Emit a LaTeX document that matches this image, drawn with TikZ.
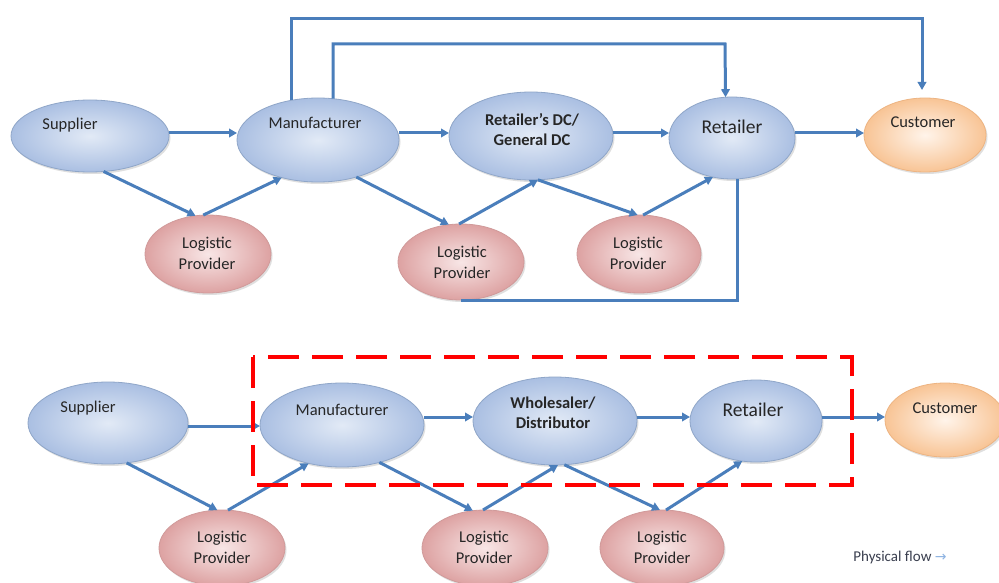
\documentclass[tikz,border=0pt]{standalone}
\usepackage{fontspec}
\setmainfont{Carlito}
\newfontfamily\dejavu{DejaVu Sans}
\usetikzlibrary{shapes.geometric,arrows.meta,shadows}
\definecolor{flowblue}{HTML}{4A7EBB}
\definecolor{flowlight}{HTML}{8DB3E2}
\definecolor{txtgray}{HTML}{262626}
\definecolor{legendtxt}{HTML}{3A3F4F}
\definecolor{blueIn}{HTML}{E2EAF6}
\definecolor{blueOut}{HTML}{AABFE2}
\definecolor{blueLine}{HTML}{8FA6C8}
\definecolor{pinkIn}{HTML}{F8E6E6}
\definecolor{pinkOut}{HTML}{DDA2A2}
\definecolor{pinkLine}{HTML}{D09A9A}
\definecolor{orIn}{HTML}{FFF4EA}
\definecolor{orOut}{HTML}{F8C495}
\definecolor{orLine}{HTML}{EDB482}
\tikzset{
  ellbase/.style={ellipse, inner sep=0pt, outer sep=0pt, line width=0.8pt,
    drop shadow={shadow xshift=1.5pt, shadow yshift=-2pt, opacity=0.25}},
  blueell/.style={ellbase, draw=blueLine, inner color=blueIn, outer color=blueOut},
  pinkell/.style={ellbase, draw=pinkLine, inner color=pinkIn, outer color=pinkOut},
  orell/.style={ellbase, draw=orLine, inner color=orIn, outer color=orOut},
  lbl/.style={text=txtgray, align=center, font=\fontsize{16.5}{21}\selectfont, inner sep=0pt},
  blbl/.style={lbl, font=\fontsize{16.5}{20}\selectfont\bfseries},
  rlbl/.style={lbl, font=\fontsize{19.5}{22}\selectfont},
  arr/.style={draw=flowblue, line width=3pt, -{Triangle[length=8pt,width=8.5pt]}},
  flowline/.style={draw=flowblue, line width=3pt},
  redbox/.style={draw=red, line width=4pt, dash pattern=on 31pt off 13pt}
}
\begin{document}
\begin{tikzpicture}[x=1pt,y=-1pt]
\useasboundingbox (0,0) rectangle (999,583);
\fill[white] (0,0) rectangle (999,583);

% ---------- top diagram ----------
\node[blueell, minimum width=158pt, minimum height=72pt] (sup) at (90,136) {};
\node[blueell, minimum width=162pt, minimum height=84pt] (man) at (318,140) {};
\node[blueell, minimum width=164pt, minimum height=88pt] (rdc) at (531,136) {};
\node[blueell, minimum width=126pt, minimum height=82pt] (ret) at (732,138) {};
\node[orell,   minimum width=122pt, minimum height=74pt] (cus) at (925,135) {};
\node[pinkell, minimum width=126pt, minimum height=78pt] (lp1) at (208,254) {};
\node[pinkell, minimum width=126pt, minimum height=76pt] (lp2) at (461,262) {};
\node[pinkell, minimum width=124pt, minimum height=78pt] (lp3) at (639,254) {};

\node[lbl] (supt) at (70,125) {Supplier};
\node[lbl] (mant) at (315,123) {Manufacturer};
\node[blbl] (rdct) at (532,130) {Retailer’s DC/\\General DC};
\node[rlbl] (rett) at (732,127) {Retailer};
\node[lbl] (cust) at (923,122) {Customer};
\node[lbl] (lp1t) at (207,253) {Logistic\\Provider};
\node[lbl] (lp2t) at (462,262) {Logistic\\Provider};
\node[lbl] (lp3t) at (638,253) {Logistic\\Provider};

\coordinate (ya) at (0,133);
\coordinate (top1) at (922,19);
\coordinate (cusin) at (922,90);
\coordinate (top2) at (725,44);

\draw[arr] (sup.east |- ya) -- (man.west |- ya);
\draw[arr] (man.east |- ya) -- (rdc.west |- ya);
\draw[arr] (rdc.east |- ya) -- (ret.west |- ya);
\draw[arr] (ret.east |- ya) -- (cus.west |- ya);
\draw[arr] (sup.-69.6) -- (lp1.108.4);
\draw[arr] (lp1.97.3) -- (man.226.5);
\draw[arr] (man.-44.3) -- (lp2.108.9);
\draw[arr] (lp2.93) -- (rdc.-81);
\draw[arr] (rdc.-81) -- (lp3.92.9);
\draw[arr] (lp3.84) -- (ret.244);
\draw[arr] (man.124.3) |- (top1) -- (cusin);
\draw[arr] (man.70) |- (top2) -- (ret.99.8);
\draw[flowline] (lp2.south) -| (ret.-83);

% ---------- bottom diagram ----------
\node[blueell, minimum width=160pt, minimum height=82pt] (sup2) at (108,423) {};
\node[blueell, minimum width=164pt, minimum height=84pt] (man2) at (342,425) {};
\node[blueell, minimum width=164pt, minimum height=88pt] (whl) at (555,421) {};
\node[blueell, minimum width=132pt, minimum height=82pt] (ret2) at (756,421) {};
\node[orell,   minimum width=120pt, minimum height=74pt] (cus2) at (945,420) {};
\node[pinkell, minimum width=126pt, minimum height=76pt] (lp4) at (222,548) {};
\node[pinkell, minimum width=126pt, minimum height=76pt] (lp5) at (485,548) {};
\node[pinkell, minimum width=124pt, minimum height=76pt] (lp6) at (662,548) {};

\node[lbl] (sup2t) at (88,408) {Supplier};
\node[lbl] (man2t) at (342,410) {Manufacturer};
\node[blbl] (whlt) at (553,413) {Wholesaler/\\Distributor};
\node[rlbl] (ret2t) at (753,410) {Retailer};
\node[lbl] (cus2t) at (945,408) {Customer};
\node[lbl] (lp4t) at (222,547) {Logistic\\Provider};
\node[lbl] (lp5t) at (484,547) {Logistic\\Provider};
\node[lbl] (lp6t) at (662,547) {Logistic\\Provider};

\coordinate (yb) at (0,426);
\coordinate (yc) at (0,417);
\draw[arr] (sup2.east |- yb) -- (man2.west |- yb);
\draw[arr] (man2.east |- yc) -- (whl.west |- yc);
\draw[arr] (whl.east |- yc) -- (ret2.west |- yc);
\draw[arr] (ret2.east |- yc) -- (cus2.west |- yc);
\draw[arr] (sup2.-65.7) -- (lp4.97.3);
\draw[arr] (lp4.81) -- (man2.229.5);
\draw[arr] (man2.-45) -- (lp5.108.9);
\draw[arr] (lp5.93) -- (whl.-86);
\draw[arr] (whl.-78.4) -- (lp6.93);
\draw[arr] (lp6.84) -- (ret2.251.6);

% red dashed frame
\draw[redbox] (253,357) rectangle (852,485);

% legend
\node[text=legendtxt, font=\fontsize{15}{18}\selectfont, inner sep=0pt] (legend) at (900,557)
  {Physical flow {\color{flowlight}\dejavu\fontsize{14}{16}\selectfont →}};
\end{tikzpicture}
\end{document}
